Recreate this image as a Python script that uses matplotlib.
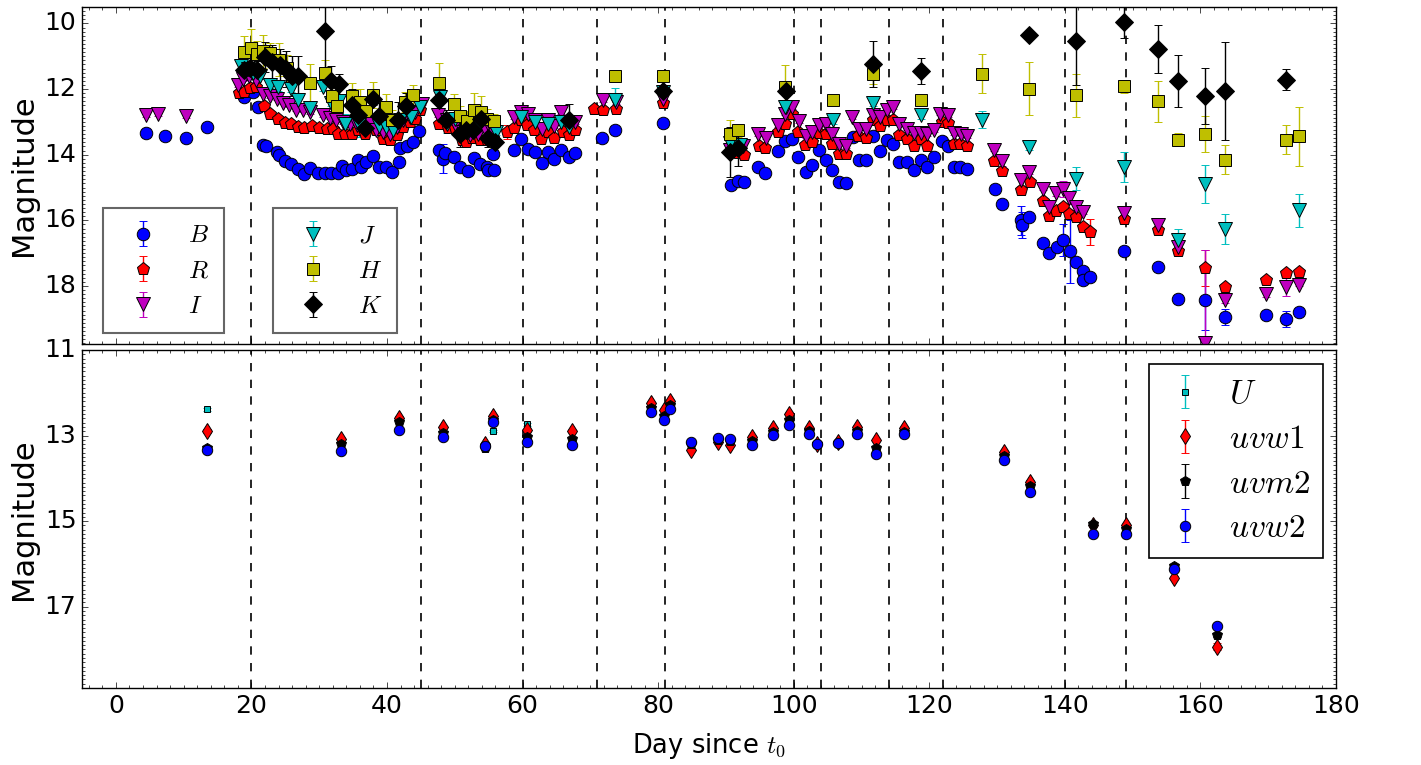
import numpy as np
import matplotlib
matplotlib.use('Agg')
import matplotlib.pyplot as plt
from matplotlib.ticker import MultipleLocator

# (day, mag, err)
B = [(4.4,13.33,.05),(7.3,13.44,.05),(10.4,13.49,.05),(13.5,13.17,.05),
     (18.9,12.24,.1),(20.2,12.09,.1),(21.0,12.55,.15),(21.7,13.69,.05),(22.1,13.75,.05),
     (23.7,13.93,.05),(24.0,14.02,.05),(24.9,14.2,.05),(25.8,14.28,.05),(26.9,14.45,.05),
     (27.7,14.58,.05),(28.7,14.4,.05),(29.8,14.56,.05),(30.8,14.56,.05),(31.8,14.56,.05),
     (32.8,14.56,.05),(33.3,14.33,.05),(34.0,14.46,.05),(34.8,14.43,.05),(35.7,14.15,.05),
     (36.2,14.38,.05),(36.9,14.23,.05),(37.9,14.05,.05),(38.8,14.38,.05),(39.8,14.38,.05),
     (40.8,14.53,.05),(41.8,14.23,.05),(41.9,13.8,.05),(42.9,13.75,.05),(43.8,13.62,.05),
     (44.7,13.29,.05),
     (47.7,13.85,.05),(48.3,14.12,.45),(48.6,13.95,.05),(49.9,14.07,.05),(50.7,14.36,.05),
     (51.9,14.5,.05),(52.8,14.09,.05),(53.7,14.28,.05),(54.7,14.36,.05),(54.9,14.46,.05),
     (55.6,13.99,.05),(55.8,14.48,.08),
     (58.7,13.85,.05),(59.8,13.52,.05),(60.8,13.83,.05),(61.8,13.92,.05),(62.8,14.26,.05),
     (63.8,13.92,.05),(64.7,14.12,.05),(65.7,13.87,.05),(66.8,14.07,.05),(67.7,13.95,.05),
     (71.7,13.48,.05),(73.7,13.24,.05),(80.7,13.02,.05),
     (90.7,14.92,.05),(91.8,14.79,.05),(92.7,14.84,.05),(94.7,14.38,.05),(95.8,14.56,.05),
     (97.7,13.9,.05),(98.7,13.59,.05),(99.8,13.51,.05),(100.6,14.07,.05),(101.8,14.53,.05),
     (102.7,14.3,.05),(103.7,13.87,.05),(104.7,14.15,.05),(105.7,14.46,.05),(106.7,14.82,.05),
     (107.7,14.86,.05),(108.7,13.46,.05),(109.6,14.15,.05),(110.6,14.15,.05),(111.7,13.44,.05),
     (112.7,13.9,.05),(113.8,13.54,.05),(114.7,13.66,.05),(115.6,14.22,.05),(116.7,14.22,.05),
     (117.8,14.46,.05),(118.8,14.17,.05),(119.7,14.38,.05),(120.7,14.07,.05),(121.8,13.59,.05),
     (122.8,13.72,.05),(123.6,14.38,.05),(124.6,14.38,.05),(125.6,14.43,.05),
     (129.7,15.06,.05),(130.7,15.5,.1),(133.6,16.0,.45),(133.7,16.14,.4),(134.7,15.9,.05),
     (136.7,16.7,.05),(137.7,17.0,.05),(138.8,16.8,.05),(139.7,16.6,.5),(140.7,16.95,.95),
     (141.6,17.28,.05),(142.6,17.53,.05),(142.7,17.82,.05),(143.7,17.73,.05),
     (148.7,16.92,.05),(153.7,17.41,.05),(156.7,18.4,.05),(160.7,18.43,.9),(163.6,18.94,.25),
     (169.6,18.9,.1),(172.6,19.0,.25),(174.6,18.8,.1)]

R = [(18.2,12.12,.05),(18.9,12.08,.05),(19.8,11.98,.05),(20.7,11.95,.05),(21.9,12.53,.05),
     (22.8,12.75,.05),(23.9,12.9,.05),(24.9,13.03,.05),(25.9,13.07,.05),(26.9,13.16,.05),
     (27.7,13.18,.05),(28.9,13.14,.05),(30.0,13.18,.05),(31.1,13.21,.05),(32.0,13.21,.05),
     (32.8,13.36,.05),(33.8,13.36,.05),(34.8,13.36,.05),(35.7,13.24,.05),(36.7,13.36,.05),
     (38.4,13.26,.05),(39.4,13.51,.05),(40.4,13.56,.05),(41.4,13.41,.05),(42.4,13.16,.05),
     (43.4,13.0,.05),(44.1,12.9,.05),(44.8,12.65,.05),
     (47.7,13.07,.05),(49.0,13.2,.05),(50.0,13.18,.05),(51.0,13.54,.05),(51.7,13.62,.05),
     (52.5,13.48,.05),(53.7,13.56,.05),(54.7,13.56,.05),(55.6,13.48,.05),
     (57.7,13.31,.2),(58.7,13.18,.05),(59.7,12.95,.05),(60.7,13.1,.05),(61.7,13.26,.05),
     (62.7,13.51,.05),(63.8,13.31,.05),(64.7,13.48,.05),(65.9,13.31,.05),(66.9,13.41,.05),
     (67.8,13.26,.05),(70.6,12.6,.05),(71.8,12.65,.05),(73.8,12.6,.05),(80.7,12.42,.05),
     (90.7,13.9,.05),(91.8,13.95,.05),(92.6,14.02,.05),(94.9,13.75,.05),(95.8,13.79,.05),
     (97.7,13.31,.05),(98.7,13.05,.05),(99.8,12.75,.05),(100.7,13.31,.05),(101.7,13.69,.05),
     (102.7,13.61,.05),(103.8,13.34,.05),(104.7,13.38,.05),(105.7,13.66,.05),(106.7,13.97,.05),
     (107.7,13.99,.05),(109.5,13.44,.05),(110.6,13.48,.05),(111.7,12.93,.05),(112.7,13.14,.05),
     (113.8,12.95,.05),(114.7,12.95,.05),(115.6,13.41,.05),(116.7,13.51,.05),(117.8,13.72,.05),
     (118.8,13.51,.05),(119.7,13.72,.05),(121.8,13.0,.05),(122.8,13.03,.05),(123.6,13.66,.05),
     (124.6,13.66,.05),(125.6,13.72,.05),
     (129.6,14.2,.05),(130.7,14.5,.1),(133.6,15.09,.15),(134.8,14.84,.05),(136.7,15.42,.05),
     (137.7,15.87,.05),(138.7,15.72,.1),(139.7,15.58,.1),(140.6,15.8,.1),(141.6,15.9,.1),
     (142.7,16.19,.1),(143.7,16.36,.4),
     (148.7,15.95,.05),(153.7,16.29,.1),(156.7,16.94,.05),(160.7,17.45,.55),(163.6,18.04,.1),
     (169.6,17.82,.05),(172.6,17.62,.1),(174.6,17.58,.05)]

I = [(4.4,12.8,.05),(6.2,12.77,.05),(10.4,12.83,.05),
     (18.0,11.88,.05),(18.8,11.7,.05),(19.7,11.6,.05),(20.6,11.72,.05),(21.7,12.14,.05),
     (22.7,12.22,.05),(23.7,12.29,.05),(24.7,12.42,.05),(25.6,12.5,.05),(26.6,12.63,.05),
     (27.6,12.65,.05),(28.6,12.7,.05),(30.6,12.8,.05),(31.6,12.87,.05),(32.4,12.95,.05),
     (33.5,13.0,.05),(34.5,13.05,.05),(35.5,13.1,.05),(36.5,13.0,.05),(37.5,13.05,.05),
     (38.4,13.26,.05),(39.4,13.31,.05),(40.4,13.36,.05),(41.4,13.16,.05),(42.4,12.95,.05),
     (43.4,12.85,.05),(44.1,12.7,.05),(45.1,12.44,.05),
     (47.5,12.8,.05),(48.8,12.95,.05),(50.0,13.05,.05),(51.2,13.31,.05),(52.2,13.41,.05),
     (53.4,13.36,.05),(54.4,13.21,.05),(55.4,13.26,.05),
     (58.8,12.85,.05),(59.8,12.7,.05),(60.8,12.75,.05),(61.8,12.95,.05),(62.8,13.21,.05),
     (63.8,12.95,.05),(64.7,13.14,.05),(65.7,12.7,.05),(66.7,13.05,.05),(67.7,13.0,.05),
     (71.8,12.34,.05),(73.8,12.39,.05),(80.7,12.3,.05),
     (90.6,13.85,.05),(92.5,13.72,.05),(94.7,13.38,.05),(95.9,13.48,.05),(97.7,13.1,.05),
     (98.7,12.75,.05),(98.9,12.55,.05),(99.8,12.55,.05),(100.8,12.97,.05),(101.8,13.44,.05),
     (102.7,13.31,.05),(103.7,13.1,.05),(104.7,13.07,.05),(105.7,13.38,.05),(106.7,13.66,.05),
     (107.7,13.75,.05),(108.6,12.85,.05),(109.6,13.21,.05),(110.6,13.21,.05),(111.7,12.8,.05),
     (112.7,12.85,.05),(113.7,12.65,.05),(114.7,12.55,.05),(115.6,13.05,.05),(116.7,13.21,.05),
     (117.8,13.34,.05),(118.8,13.34,.05),(119.7,13.38,.05),(120.7,13.26,.05),(121.6,12.75,.05),
     (122.8,12.8,.05),(123.7,13.34,.05),(124.7,13.38,.05),(125.6,13.44,.05),
     (129.6,13.85,.05),(130.7,14.2,.15),(133.6,14.78,.2),(134.7,14.53,.05),(136.7,15.04,.05),
     (137.7,15.58,.2),(138.7,15.17,.1),(139.7,15.04,.25),(140.6,15.31,.2),(141.6,15.6,.1),
     (142.7,15.75,.05),
     (148.7,15.78,.05),(153.7,16.13,.05),(156.7,16.8,.05),(160.7,19.75,2.85),(163.6,18.43,.1),
     (169.6,18.24,.1),(172.6,18.02,.3),(174.6,17.96,.05)]

J = [(18.5,11.3,.1),(19.5,11.4,.1),(20.2,11.5,.1),(21.2,11.6,.1),(22.7,11.88,.1),
     (23.9,11.95,.1),(25.8,12.0,.1),(26.9,12.34,.1),(28.7,12.57,.1),(30.6,11.95,.1),
     (31.8,12.42,.1),(32.9,12.36,.1),(33.8,13.07,.3),(35.9,13.1,.35),(38.8,13.14,.1),
     (39.9,13.16,.1),(40.9,13.26,.1),(41.9,12.95,.1),(43.6,12.85,.1),(44.8,12.55,.1),
     (47.8,12.25,.1),(48.8,13.05,.3),(50.0,12.9,.1),(52.0,13.3,.1),(53.5,13.1,.1),
     (55.0,13.0,.1),(56.1,13.3,.1),
     (59.8,12.85,.1),(61.8,13.0,.1),(63.8,13.05,.1),(65.7,13.0,.1),(66.9,13.15,.3),
     (73.7,12.32,.35),(80.7,12.1,.1),
     (90.6,13.65,.1),(92.0,13.7,.1),(98.7,12.55,.1),(105.8,12.95,.1),(111.7,12.42,.1),
     (118.8,12.8,.1),
     (127.8,12.93,.25),(134.7,13.77,.1),(141.6,14.73,.35),(148.7,14.38,.45),(156.7,16.6,.35),
     (160.7,14.89,.58),(163.6,16.26,.45),(174.6,15.7,.5)]

H = [(18.9,10.87,.5),(20.0,10.76,.6),(20.8,10.92,.4),(21.7,10.85,.5),(22.8,10.9,.3),
     (24.1,11.1,.5),(25.2,11.37,.4),(28.7,11.83,.6),(30.9,11.52,.4),(31.9,12.2,.3),
     (32.6,12.53,.3),(34.9,12.22,.4),(36.0,12.39,.4),(36.9,12.67,.3),(37.9,12.19,.4),
     (39.8,12.55,.4),(40.8,12.93,.3),(42.6,12.39,.3),(43.8,12.19,.3),
     (47.7,11.8,.58),(49.9,12.44,.3),(50.8,12.83,.3),(51.8,12.97,.3),(52.8,12.63,.5),
     (53.8,12.7,.5),(54.8,12.9,.3),(55.8,12.97,.2),
     (73.7,11.61,.1),(80.7,11.61,.1),
     (90.6,13.38,.45),(91.8,13.26,.2),(98.7,11.94,.67),(105.8,12.34,.1),(111.7,11.55,.3),
     (118.8,12.34,.1),
     (127.8,11.53,.6),(134.7,11.99,.8),(141.6,12.19,.65),(148.7,11.91,.2),(153.7,12.37,.62),
     (156.7,13.54,.2),(160.7,13.38,.55),(163.6,14.15,.45),(172.6,13.54,.45),(174.6,13.44,.9)]

K = [(18.9,11.43,.3),(19.8,11.35,.3),(20.8,11.43,.3),(22.0,11.03,.45),(23.1,11.17,.5),
     (24.2,11.28,.5),(25.1,11.4,.55),(26.0,11.6,.6),(26.9,11.6,.6),(30.8,10.22,1.3),
     (31.8,11.75,.45),(32.9,11.85,.3),(34.9,12.49,.5),(35.7,12.8,.4),(36.7,13.18,.3),
     (37.9,12.29,.2),(38.8,12.83,.4),(41.6,12.93,.55),(42.8,12.53,.4),
     (47.7,12.32,.3),(48.7,12.93,.3),(50.7,13.36,.4),(51.7,13.26,.3),(52.7,13.24,.3),
     (53.8,12.9,.3),(54.9,13.48,.3),(55.9,13.62,.3),(66.9,12.95,.5),(80.7,12.07,.2),
     (90.6,13.92,.75),(91.8,13.79,.55),(98.8,12.06,.15),(111.7,11.24,.7),(118.8,11.45,.4),
     (134.7,10.34,.1),(141.6,10.53,1.35),(148.7,9.97,.46),(153.7,10.79,.73),(156.7,11.76,.79),
     (160.7,12.21,.85),(163.6,12.06,1.5),(172.6,11.71,.32)]

# Swift UVOT bands
U = [(13.5,12.39,.03),(55.7,12.89,.03),(60.7,12.74,.03)]
UVW1 = [(13.5,12.89,.04),(33.2,13.09,.03),(41.8,12.58,.03),(48.2,12.81,.03),(54.4,13.2,.03),
        (55.6,12.54,.03),(60.7,12.87,.03),(67.3,12.89,.03),(78.9,12.25,.03),(80.9,12.4,.03),
        (81.7,12.19,.03),(84.9,13.34,.03),(88.9,13.14,.03),(90.6,13.22,.03),(93.8,13.03,.03),
        (96.9,12.83,.03),(99.3,12.5,.03),(102.3,12.83,.03),(103.5,13.2,.03),(106.6,13.15,.03),
        (109.4,12.81,.03),(112.2,13.1,.03),(116.3,12.83,.03),(131.0,13.38,.03),(134.8,14.08,.03),
        (144.1,15.1,.03),(149.0,15.09,.03),(156.1,16.32,.04),(162.4,17.94,.08)]
UVM2 = [(13.5,13.28,.03),(33.2,13.2,.03),(41.8,12.68,.03),(48.2,12.94,.03),(54.4,13.28,.03),
        (55.6,12.64,.03),(60.7,13.04,.03),(67.3,13.09,.03),(78.9,12.36,.03),(80.9,12.55,.03),
        (81.7,12.29,.03),(84.9,13.2,.03),(88.9,13.1,.03),(90.6,13.12,.03),(93.8,13.13,.03),
        (96.9,12.91,.03),(99.3,12.64,.03),(102.3,12.9,.03),(103.5,13.2,.03),(106.6,13.17,.03),
        (109.4,12.9,.03),(112.2,13.3,.03),(116.3,12.92,.03),(131.0,13.47,.03),(134.8,14.17,.03),
        (144.1,15.07,.03),(149.0,15.19,.03),(156.1,16.05,.03),(162.4,17.67,.05)]
UVW2 = [(13.5,13.34,.03),(33.2,13.36,.03),(41.8,12.86,.03),(48.2,13.04,.03),(54.4,13.25,.03),
        (55.6,12.68,.03),(60.7,13.14,.03),(67.3,13.21,.03),(78.9,12.44,.03),(80.9,12.64,.03),
        (81.7,12.39,.03),(84.9,13.15,.03),(88.9,13.06,.03),(90.6,13.09,.03),(93.8,13.22,.03),
        (96.9,12.99,.03),(99.3,12.75,.03),(102.3,12.96,.03),(103.5,13.2,.03),(106.6,13.18,.03),
        (109.4,12.97,.03),(112.2,13.42,.03),(116.3,12.97,.03),(131.0,13.57,.03),(134.8,14.33,.03),
        (144.1,15.29,.03),(149.0,15.31,.03),(156.1,16.13,.03),(162.4,17.46,.04)]

epochs = [20, 45, 60, 71, 81, 100, 104, 114, 122, 140, 149]

plt.style.use('classic')
plt.rcParams['figure.facecolor'] = 'w'
plt.rcParams['savefig.facecolor'] = 'w'
plt.rcParams['legend.numpoints'] = 1
plt.rcParams['mathtext.fontset'] = 'cm'

fig = plt.figure(figsize=(14.21, 7.65), dpi=100)
ax1 = fig.add_axes([0.0577, 0.5503, 0.8825, 0.4405])
ax2 = fig.add_axes([0.0577, 0.1007, 0.8825, 0.4418])


def band(ax, rows, fmt, col, ms, lab):
    d, m, e = zip(*rows)
    return ax.errorbar(d, m, yerr=e, fmt=fmt, color=col, mfc=col, mec='k', mew=0.7,
                       ms=ms, ecolor=col, elinewidth=1, capsize=3, label=lab)


hB = band(ax1, B, 'o', 'b', 9, '$B$')
hR = band(ax1, R, 'p', 'r', 9.5, '$R$')
hI = band(ax1, I, 'v', 'm', 10.5, '$I$')
hJ = band(ax1, J, 'v', 'c', 10.5, '$J$')
hH = band(ax1, H, 's', 'y', 9, '$H$')
hK = band(ax1, K, 'D', 'k', 9.5, '$K$')

hU = band(ax2, U, 's', 'c', 4, '$U$')
hW1 = band(ax2, UVW1, 'd', 'r', 8.5, '$uvw1$')
hM2 = band(ax2, UVM2, 'p', 'k', 7.5, '$uvm2$')
hW2 = band(ax2, UVW2, 'o', 'b', 7.5, '$uvw2$')

for ax in (ax1, ax2):
    for t in epochs:
        ax.axvline(t, color='k', ls='--', lw=1.2, zorder=1)
    ax.set_xlim(-5, 180)
    ax.xaxis.set_major_locator(MultipleLocator(20))
    ax.xaxis.set_minor_locator(MultipleLocator(2))
    ax.tick_params(labelsize=18)
    ax.set_ylabel('Magnitude', fontsize=22)

ax1.set_ylim(19.77, 9.5)
ax1.yaxis.set_minor_locator(MultipleLocator(0.125))
ax1.set_yticks([10, 12, 14, 16, 18])
ax1.tick_params(labelbottom=False)

ax2.set_ylim(18.9, 11)
ax2.set_yticks([11, 13, 15, 17])
ax2.yaxis.set_minor_locator(MultipleLocator(0.1))
ax2.set_xlabel('Day since $t_0$', fontsize=18.5, labelpad=10)

top_leg = dict(loc='lower left', borderaxespad=0, fontsize=18, handlelength=2.0,
               handletextpad=0.8, borderpad=0.6, labelspacing=0.45)
leg1 = ax1.legend([hB, hR, hI], ['$B$', '$R$', '$I$'],
                  bbox_to_anchor=(0.0167, 0.033), **top_leg)
leg1.get_frame().set_edgecolor('0.4')
leg1.get_frame().set_linewidth(1.5)
ax1.add_artist(leg1)
leg2 = ax1.legend([hJ, hH, hK], ['$J$', '$H$', '$K$'],
                  bbox_to_anchor=(0.152, 0.033), **top_leg)
leg2.get_frame().set_edgecolor('0.4')
leg2.get_frame().set_linewidth(1.5)

leg3 = ax2.legend([hU, hW1, hM2, hW2], ['$U$', '$uvw1$', '$uvm2$', '$uvw2$'],
                  loc='upper right', bbox_to_anchor=(0.99, 0.959), borderaxespad=0,
                  fontsize=24, handlelength=1.4, handletextpad=0.6, borderpad=0.4,
                  labelspacing=0.35)
leg3.get_frame().set_linewidth(1.2)

fig.savefig('out.png', dpi=100)
